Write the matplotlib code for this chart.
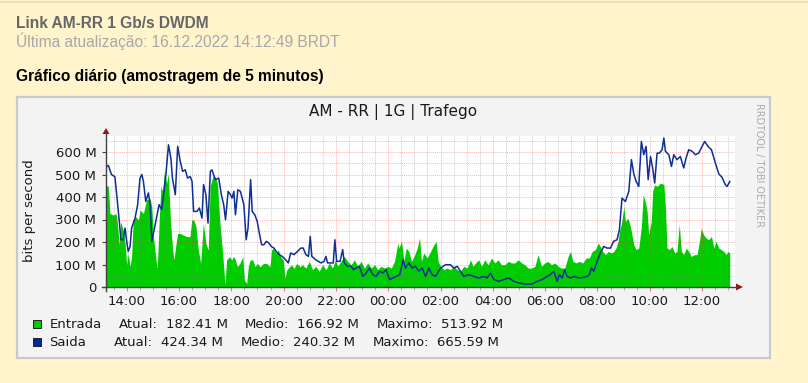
import numpy as np
import matplotlib
matplotlib.use("Agg")
import matplotlib.pyplot as plt
from matplotlib.patches import Rectangle, Polygon
from matplotlib.lines import Line2D

# ---- data (hours since midnight of the first day, values in Mbit/s) ----
entrada_h = [13.21, 13.30, 13.36, 13.49, 13.59, 13.64, 13.72, 13.77, 13.87, 13.94,
             14.00, 14.06, 14.13, 14.19, 14.25, 14.36, 14.45, 14.51, 14.64, 14.76,
             14.89, 14.96, 15.02, 15.12, 15.17, 15.25, 15.31, 15.38, 15.44, 15.53,
             15.59, 15.68, 15.76, 15.81, 15.89, 15.95, 16.04, 16.17, 16.29, 16.42,
             16.49, 16.57, 16.65, 16.74, 16.83, 16.93, 17.03, 17.12, 17.19, 17.29,
             17.38, 17.47, 17.54, 17.59, 17.67, 17.76, 17.82, 17.93, 18.02, 18.08,
             18.14, 18.23, 18.33, 18.44, 18.50, 18.59, 18.65, 18.72, 18.82, 18.91,
             19.00, 19.10, 19.23, 19.35, 19.48, 19.54, 19.61, 19.71, 19.80, 19.89,
             19.99, 20.05, 20.12, 20.22, 20.31, 20.40, 20.50, 20.63, 20.72, 20.85,
             20.98, 21.11, 21.23, 21.36, 21.49, 21.62, 21.75, 21.87, 21.98, 22.07,
             22.19, 22.32, 22.45, 22.58, 22.71, 22.83, 22.96, 23.09, 23.22, 23.35,
             23.48, 23.60, 23.73, 23.86, 23.99, 24.12, 24.24, 24.37, 24.41, 24.51,
             24.60, 24.69, 24.79, 24.89, 25.02, 25.11, 25.20, 25.27, 25.36, 25.49,
             25.62, 25.75, 25.83, 25.91, 26.00, 26.13, 26.25, 26.38, 26.51, 26.64,
             26.76, 26.89, 27.02, 27.15, 27.24, 27.34, 27.46, 27.57, 27.69, 27.82,
             27.95, 28.08, 28.20, 28.33, 28.46, 28.59, 28.71, 28.84, 28.97, 29.10,
             29.22, 29.35, 29.48, 29.61, 29.73, 29.86, 29.99, 30.11, 30.24, 30.37,
             30.50, 30.62, 30.75, 30.88, 30.97, 31.06, 31.18, 31.31, 31.44, 31.57,
             31.69, 31.80, 31.92, 32.03, 32.11, 32.20, 32.31, 32.41, 32.54, 32.62,
             32.71, 32.79, 32.84, 32.92, 33.01, 33.07, 33.17, 33.26, 33.32, 33.39,
             33.48, 33.58, 33.68, 33.75, 33.83, 33.90, 33.96, 34.06, 34.11, 34.19,
             34.28, 34.41, 34.54, 34.60, 34.66, 34.75, 34.85, 34.96, 35.04, 35.13,
             35.21, 35.30, 35.39, 35.49, 35.59, 35.72, 35.81, 35.90, 35.97, 36.06,
             36.15, 36.25, 36.36, 36.45, 36.54, 36.64, 36.74, 36.83, 36.92, 36.99,
             37.06]
entrada = [453, 446, 327, 320, 327, 290, 187, 290, 253, 194,
           98, 150, 90, 135, 298, 312, 298, 342, 327, 387,
           394, 357, 231, 120, 83, 312, 446, 424, 514, 461,
           505, 283, 164, 120, 194, 238, 238, 231, 224, 224,
           298, 298, 268, 164, 105, 283, 194, 164, 446, 490,
           490, 461, 327, 253, 150, 9, 120, 135, 120, 135,
           127, 90, 105, 135, 31, 16, 90, 120, 120, 90,
           105, 90, 105, 105, 90, 164, 172, 150, 164, 135,
           120, 39, 75, 90, 98, 83, 105, 90, 99, 84,
           114, 77, 92, 70, 99, 77, 107, 84, 121, 92,
           114, 136, 114, 99, 121, 92, 114, 84, 107, 84,
           99, 77, 92, 84, 92, 84, 114, 195, 173, 203,
           114, 173, 158, 114, 144, 173, 218, 114, 151, 129,
           158, 188, 203, 114, 92, 77, 84, 77, 92, 77,
           70, 92, 84, 121, 92, 107, 121, 92, 121, 99,
           129, 107, 121, 99, 99, 114, 107, 107, 121, 107,
           99, 84, 84, 92, 144, 92, 107, 114, 99, 107,
           92, 84, 84, 136, 158, 114, 107, 114, 107, 129,
           129, 158, 166, 195, 180, 158, 144, 158, 151, 158,
           173, 203, 247, 284, 358, 292, 306, 269, 232, 188,
           166, 173, 269, 410, 380, 336, 232, 292, 425, 455,
           447, 462, 455, 351, 173, 166, 180, 151, 158, 277,
           158, 144, 173, 158, 136, 144, 144, 203, 262, 232,
           218, 210, 225, 173, 203, 173, 166, 158, 144, 158,
           151]

saida_h = [13.23, 13.30, 13.42, 13.55, 13.62, 13.72, 13.78, 13.87, 13.94, 14.00,
           14.06, 14.13, 14.19, 14.32, 14.42, 14.51, 14.58, 14.64, 14.73, 14.83,
           14.90, 14.96, 15.09, 15.24, 15.34, 15.41, 15.50, 15.60, 15.69, 15.75,
           15.86, 15.95, 16.05, 16.14, 16.24, 16.33, 16.43, 16.50, 16.56, 16.69,
           16.78, 16.88, 16.94, 17.03, 17.11, 17.20, 17.26, 17.39, 17.52, 17.62,
           17.71, 17.78, 17.88, 17.97, 18.03, 18.10, 18.16, 18.25, 18.35, 18.48,
           18.57, 18.64, 18.74, 18.80, 18.90, 18.99, 19.06, 19.16, 19.25, 19.34,
           19.44, 19.53, 19.63, 19.72, 19.83, 19.95, 20.08, 20.18, 20.27, 20.40,
           20.53, 20.66, 20.75, 20.85, 20.95, 21.02, 21.08, 21.23, 21.43, 21.55,
           21.62, 21.68, 21.81, 21.90, 21.96, 22.03, 22.16, 22.26, 22.32, 22.45,
           22.58, 22.67, 22.77, 22.90, 23.03, 23.16, 23.28, 23.41, 23.54, 23.67,
           23.80, 23.92, 24.05, 24.18, 24.31, 24.44, 24.57, 24.66, 24.79, 24.92,
           25.04, 25.17, 25.30, 25.43, 25.55, 25.68, 25.81, 26.00, 26.19, 26.38,
           26.51, 26.64, 26.76, 26.89, 27.08, 27.27, 27.46, 27.66, 27.78, 27.91,
           28.04, 28.23, 28.42, 28.61, 28.80, 28.99, 29.25, 29.50, 29.69, 29.89,
           30.08, 30.20, 30.33, 30.46, 30.55, 30.65, 30.75, 30.84, 30.97, 31.10,
           31.29, 31.48, 31.61, 31.69, 31.77, 31.86, 31.99, 32.11, 32.24, 32.37,
           32.50, 32.62, 32.75, 32.84, 32.94, 33.07, 33.20, 33.30, 33.39, 33.48,
           33.58, 33.68, 33.77, 33.86, 33.94, 34.03, 34.11, 34.19, 34.28, 34.37,
           34.47, 34.54, 34.60, 34.73, 34.83, 34.92, 35.04, 35.17, 35.30, 35.39,
           35.49, 35.62, 35.75, 35.87, 36.00, 36.10, 36.23, 36.36, 36.51, 36.64,
           36.76, 36.89, 36.96, 37.06]
saida = [536, 540, 500, 490, 410, 290, 210, 210, 262, 203,
         158, 180, 262, 306, 366, 484, 500, 470, 380, 418,
         366, 203, 277, 366, 344, 410, 500, 632, 573, 484,
         410, 625, 558, 514, 521, 484, 491, 469, 336, 336,
         351, 306, 455, 410, 284, 514, 521, 477, 484, 410,
         366, 299, 425, 410, 395, 425, 321, 432, 425, 366,
         210, 262, 477, 336, 321, 292, 247, 188, 188, 203,
         195, 180, 173, 158, 144, 136, 121, 107, 151, 144,
         158, 173, 173, 144, 136, 225, 136, 121, 107, 114,
         136, 107, 107, 107, 210, 114, 114, 166, 107, 92,
         92, 77, 84, 92, 47, 62, 84, 55, 47, 70,
         62, 77, 33, 40, 47, 55, 121, 84, 107, 84,
         92, 70, 84, 47, 84, 55, 47, 84, 99, 99,
         84, 92, 70, 47, 55, 47, 40, 47, 40, 62,
         33, 25, 33, 40, 25, 18, 13, 13, 25, 33,
         47, 55, 70, 25, 55, 40, 77, 47, 40, 47,
         40, 43, 47, 55, 84, 70, 114, 151, 180, 173,
         173, 203, 210, 255, 395, 380, 425, 566, 503, 469,
         447, 647, 588, 625, 477, 580, 529, 462, 595, 595,
         610, 662, 603, 588, 536, 588, 566, 580, 529, 573,
         610, 603, 588, 595, 625, 647, 625, 610, 551, 503,
         488, 455, 447, 469]

y_ticks = [0, 100, 200, 300, 400, 500, 600]
y_labels = ["0", "100 M", "200 M", "300 M", "400 M", "500 M", "600 M"]
x_ticks = [14, 16, 18, 20, 22, 24, 26, 28, 30, 32, 34, 36]
x_labels = ["%02d:00" % (h % 24) for h in x_ticks]

legend_rows = [
    ("Entrada", "#00cc00", ["Atual:", "182.41 M", "Medio:", "166.92 M", "Maximo:", "513.92 M"]),
    ("Saida", "#002a97", ["Atual:", "424.34 M", "Medio:", "240.32 M", "Maximo:", "665.59 M"]),
]

W, H = 808, 383


def px(x, y):
    # pixel position -> figure fraction
    return (x / W, 1 - y / H)


fig = plt.figure(figsize=(W / 100, H / 100), dpi=100)
fig.patch.set_facecolor("#fff4cc")

fig.add_artist(Line2D([0, 1], [1 - 1.5 / H] * 2, color="#f2d9b0", lw=1.2))

hdr = ["Liberation Sans", "DejaVu Sans"]
fig.text(*px(16.5, 28), "Link AM-RR 1 Gb/s DWDM", fontsize=11.2, fontweight="bold",
         color="#666666", family=hdr, va="baseline")
fig.text(*px(16.5, 47), "Última atualização: 16.12.2022 14:12:49 BRDT", fontsize=11.2,
         color="#a8a8a8", family=hdr, va="baseline")
fig.text(*px(16.5, 81), "Gráfico diário (amostragem de 5 minutos)", fontsize=11.2,
         fontweight="bold", color="#000000", family=hdr, va="baseline")

# rrdtool canvas
x0, y0 = px(17, 358)
fig.add_artist(Rectangle((x0, y0), (770 - 17) / W, (358 - 97) / H, transform=fig.transFigure,
                         fc="#f3f3f3", ec="#c9c9c9", lw=1.6, zorder=-1))

fig.text(*px(393, 112.5), "AM - RR | 1G | Trafego", fontsize=11, color="#1a1a1a",
         ha="center", va="center")
fig.text(*px(759, 165), "RRDTOOL / TOBI OETIKER", fontsize=6.9, color="#aaaaaa",
         rotation=270, ha="center", va="center")
fig.text(*px(30, 211), "bits per second", fontsize=9.5, color="#1a1a1a",
         rotation=90, ha="center", va="center")

left, right, bottom, top = 106, 735, 287, 136
ax = fig.add_axes([left / W, 1 - bottom / H, (right - left) / W, (bottom - top) / H])
ax.set_facecolor("white")
ax.set_xlim(13.21, 37.26)
ax.set_ylim(0, (bottom - top) * 100 / 22.5)

ax.fill_between(entrada_h, entrada, color="#00cc00", lw=0, zorder=2)

# grid on top of the area, like rrdtool
dots = (0, (1, 1))
for h in np.arange(13.5, 37.3, 0.5):
    if abs(h / 2 - round(h / 2)) < 1e-6:
        ax.axvline(h, color="#ff3030", alpha=0.35, lw=0.7, ls=dots, zorder=2.5)
    else:
        ax.axvline(h, color="#707070", alpha=0.35, lw=0.7, ls=dots, zorder=2.5)
for v in range(50, 700, 50):
    if v % 100 == 0:
        ax.axhline(v, color="#ff3030", alpha=0.35, lw=0.7, ls=dots, zorder=2.5)
    else:
        ax.axhline(v, color="#707070", alpha=0.35, lw=0.7, ls=dots, zorder=2.5)

ax.plot(saida_h, saida, color="#0e2f94", lw=1.1, zorder=3)

ax.set_yticks(y_ticks)
ax.set_yticklabels(y_labels)
ax.set_xticks(x_ticks)
ax.set_xticklabels(x_labels)
ax.set_xticks(np.arange(13.5, 37.3, 0.5), minor=True)
ax.tick_params(axis="y", length=3, width=0.8, color="#404040", pad=4,
               labelsize=9.5, labelcolor="#1a1a1a")
ax.tick_params(axis="x", which="major", length=3, width=0.8, color="#e08080", pad=3,
               labelsize=9.5, labelcolor="#1a1a1a")
ax.tick_params(axis="x", which="minor", length=2, width=0.6, color="#a0a0a0")
for s in ax.spines.values():
    s.set_visible(False)

# axes with arrows
fig.add_artist(Line2D([px(106, 0)[0]] * 2, [px(0, 291)[1], px(0, 133)[1]],
                      color="#404040", lw=1.0))
fig.add_artist(Line2D([px(102, 0)[0], px(737, 0)[0]], [px(0, 287)[1]] * 2,
                      color="#404040", lw=1.0))
fig.add_artist(Polygon([px(102.5, 134), px(109.5, 134), px(106, 128)],
                       transform=fig.transFigure, fc="#8b1a1a", ec="none"))
fig.add_artist(Polygon([px(736, 283.5), px(736, 290.5), px(743, 287)],
                       transform=fig.transFigure, fc="#8b1a1a", ec="none"))

# legend
row_y = [324, 342.3]
col_x = [[119, 165.7, 245, 296.7, 376.7, 441],
         [114, 160.7, 240.7, 292.7, 372.3, 436.7]]
for (name, col, items), yy, xs in zip(legend_rows, row_y, col_x):
    fig.add_artist(Rectangle(px(33, yy + 4), 8 / W, 8 / H, transform=fig.transFigure,
                             fc=col, ec="#202020", lw=0.7))
    fig.text(*px(49.3, yy), name, fontsize=9.5, color="#1a1a1a", va="center")
    for xx, s in zip(xs, items):
        fig.text(*px(xx, yy), s, fontsize=9.5, color="#1a1a1a", va="center")

fig.savefig("out.png", dpi=100, facecolor=fig.get_facecolor())
